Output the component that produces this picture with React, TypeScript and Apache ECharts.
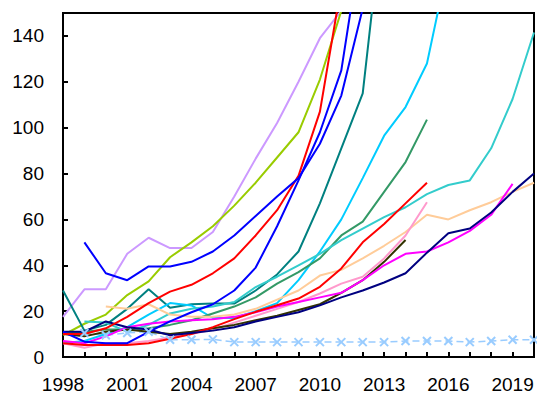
import React, { useEffect, useRef } from "react";
import * as echarts from "echarts";

// Years on the horizontal axis
const years = [
  1998, 1999, 2000, 2001, 2002, 2003, 2004, 2005, 2006, 2007, 2008, 2009,
  2010, 2011, 2012, 2013, 2014, 2015, 2016, 2017, 2018, 2019, 2020,
];

// One value per year; null where a series has no value
const lavender = [17.5, 29.5, 29.5, 45, 52, 47.5, 47.5, 54.5, 70, 86.5, 102, 120, 139, 151, 190];
const yellowGreen = [9.5, 14.5, 18.5, 27, 33, 43.5, 50, 57, 66, 76, 87, 98, 121, 151, 200];
const blueA = [null, 50, 36.5, 33.5, 39.5, 39.5, 41.5, 46, 53, 61.5, 70, 78, 93, 114, 152];
const blueB = [11, 6.7, 6, 6, 11, 15.5, 19.5, 23, 29, 39, 57, 77, 98, 125, 185];
const redA = [10, 10, 12.5, 17.5, 23.5, 28.5, 31.5, 36.5, 43, 53, 64, 79, 107, 162];
const redB = [6, 5.2, 5.2, 5.2, 6, 8, 10, 13, 16.5, 19.7, 22.6, 25.5, 30.6, 38.6, 50, 58, 67, 76];
const teal = [29, 11.5, 14, 21, 29.5, 21.5, 23, 23.3, 23.3, 29, 36, 46, 67, 91, 115, 198];
const skyBlue = [6, 7, 10, 13, 18.5, 23.5, 22.5, 17, 17, 20, 23.5, 33.5, 46, 60, 78, 96.5, 109, 128, 172];
const seaGreen = [10, 11, 12, 12, 12.5, 14, 16, 19, 22, 26, 32, 37, 43, 53, 59, 72, 85, 103.5];
const turquoise = [null, 15.5, 15, 11, 14, 19, 21, 22, 24, 30.5, 35, 40, 45, 51, 56, 61, 65.3, 71, 75, 77, 91, 112.5, 141.5];
const peach = [null, null, 22, 21, 23, 18.5, 17.5, 17.5, 18.5, 21, 25, 29, 35.5, 38, 43, 48.5, 54.5, 62, 60, 64, 67.5, 72, 76];
const pink = [6, 4, 6, 6, 7, 8.5, 10, 12, 15, 18, 21, 24, 27.7, 32, 35, 43, 53, 67.5];
const olive = [10, 9, 11, 12, 11, 10, 11, 12.5, 14, 16, 18, 20.5, 23, 28, 33.5, 41.5, 51];
const magenta = [7, 6, 9, 13, 14.5, 15.5, 16, 16.5, 17.5, 19.5, 22, 24, 26, 28, 33.5, 40, 45, 46, 50, 55, 62, 75.5];
const navy = [11, 11, 15.5, 13, 12, 9.5, 10.5, 11.5, 13, 15.5, 17.5, 19.5, 22.5, 26, 29, 32.5, 36.5, 45.5, 54, 56, 63, 72, 80];
const paleBlue = [null, 10.5, 9.5, 10.5, 11, 7.5, 7.5, 7.7, 6.5, 6.5, 6.5, 6.5, 6.5, 6.5, 6.5, 6.5, 7, 7, 7, 6.5, 7, 7.5, 7.5];

const lines: { values: (number | null)[]; color: string }[] = [
  { values: lavender, color: "#cc99ff" },
  { values: yellowGreen, color: "#99cc00" },
  { values: teal, color: "#008080" },
  { values: skyBlue, color: "#00ccff" },
  { values: seaGreen, color: "#339966" },
  { values: turquoise, color: "#33cccc" },
  { values: peach, color: "#ffcc99" },
  { values: pink, color: "#ff99cc" },
  { values: olive, color: "#333300" },
  { values: magenta, color: "#ff00ff" },
  { values: redB, color: "#ff0000" },
  { values: navy, color: "#000080" },
  { values: blueB, color: "#0000ff" },
  { values: redA, color: "#ff0000" },
  { values: blueA, color: "#0000ff" },
];

const toPairs = (vals: (number | null)[]) =>
  years.map((y, i) => [y, vals[i] === undefined ? null : vals[i]]);

const FONT = "Liberation Sans, Arial, sans-serif";

export default function App() {
  const ref = useRef<HTMLDivElement>(null);

  useEffect(() => {
    if (!ref.current) return;
    const chart = echarts.init(ref.current, undefined, { renderer: "svg" });

    const series: any[] = lines.map((l) => ({
      type: "line",
      data: toPairs(l.values),
      xAxisIndex: 0,
      showSymbol: false,
      symbol: "none",
      connectNulls: false,
      lineStyle: { color: l.color, width: 2 },
      itemStyle: { color: l.color },
    }));

    series.unshift({
      type: "line",
      data: toPairs(paleBlue),
      xAxisIndex: 0,
      symbol: "path://M0,0L10,10M10,0L0,10",
      symbolSize: 8,
      showSymbol: true,
      lineStyle: { color: "#99ccff", width: 1.5, type: [7, 4] },
      itemStyle: { color: "none", borderColor: "#99ccff", borderWidth: 2 },
    });

    chart.setOption({
      animation: false,
      backgroundColor: "#ffffff",
      grid: {
        left: 63,
        right: 3,
        top: 13,
        bottom: 37,
        show: true,
        borderColor: "#000",
        borderWidth: 2,
      },
      xAxis: [
        {
          type: "value",
          min: 1998,
          max: 2020,
          interval: 1,
          position: "bottom",
          axisLine: { show: true, lineStyle: { color: "#000", width: 2 } },
          axisTick: { show: true, inside: true, length: 5, lineStyle: { color: "#000", width: 2 } },
          axisLabel: { show: false },
          splitLine: { show: false },
        },
        {
          type: "value",
          min: 1998,
          max: 2020,
          interval: 3,
          position: "bottom",
          axisLine: { show: false },
          axisTick: { show: false },
          splitLine: { show: false },
          axisLabel: {
            show: true,
            showMaxLabel: false,
            margin: 18,
            color: "#000",
            fontSize: 19,
            fontFamily: FONT,
            formatter: (v: number) => String(v),
          },
        },
      ],
      yAxis: {
        type: "value",
        min: 0,
        max: 150,
        interval: 20,
        axisLine: { show: true, lineStyle: { color: "#000", width: 2 } },
        axisTick: { show: true, inside: true, length: 5, lineStyle: { color: "#000", width: 2 } },
        splitLine: { show: false },
        axisLabel: {
          showMaxLabel: false,
          margin: 19,
          color: "#000",
          fontSize: 19,
          fontFamily: FONT,
        },
      },
      series,
    });

    return () => chart.dispose();
  }, []);

  return (
    <div
      ref={ref}
      style={{ position: "absolute", left: 0, top: 0, width: 537, height: 394 }}
    />
  );
}
